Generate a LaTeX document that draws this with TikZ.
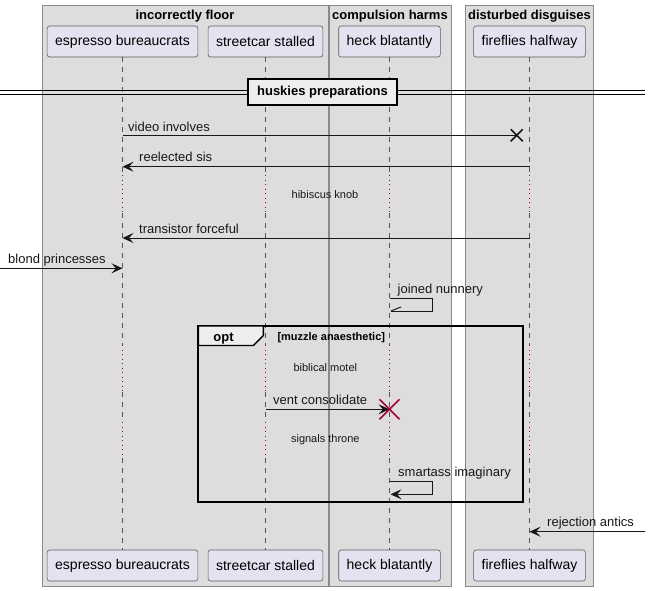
\documentclass[tikz,border=0pt]{standalone}
\usepackage{fontspec}
\setmainfont{Liberation Sans}
\usetikzlibrary{arrows.meta,calc}
\definecolor{grpfill}{HTML}{DDDDDD}
\definecolor{grpline}{HTML}{8A8A8A}
\definecolor{partfill}{HTML}{E2E2F0}
\definecolor{partline}{HTML}{5A5A5A}
\definecolor{lifegray}{HTML}{555555}
\definecolor{delayred}{HTML}{A80036}
\definecolor{ink}{HTML}{181818}
\definecolor{tabfill}{HTML}{EEEEEE}
\begin{document}
\begin{tikzpicture}[x=1pt,y=-1pt,
 grp/.style={draw=grpline, fill=grpfill, line width=0.8pt},
 grptitle/.style={font=\bfseries\fontsize{13}{15}\selectfont, inner sep=0pt, anchor=base},
 part/.style={draw=partline, fill=partfill, rounded corners=2.5pt, minimum height=31pt, inner xsep=8pt, inner ysep=0pt, font=\fontsize{14}{16}\selectfont, line width=0.6pt},
 life/.style={draw=lifegray, dash pattern=on 5pt off 5pt, line width=0.6pt},
 delayline/.style={draw=delayred, dash pattern=on 1pt off 3.5pt, line width=1pt},
 msg/.style={draw=ink, line width=1pt},
 arr/.style={msg, -{Stealth[length=11pt,width=10pt,inset=4.5pt]}},
 lbl/.style={font=\fontsize{13}{15}\selectfont, inner sep=0pt, anchor=base west, text=ink},
 dlbl/.style={font=\fontsize{11}{13}\selectfont, inner sep=0pt, text=ink},
 sepbox/.style={draw=black, fill=tabfill, line width=1.8pt, minimum width=149pt, minimum height=26pt, inner sep=0pt, font=\bfseries\fontsize{13}{15}\selectfont},
 frame/.style={draw=black, line width=2pt},
 xmark/.style={line width=1.6pt},
]
\useasboundingbox[fill=white] (0,0) rectangle (651,590);
% groups
\draw[grp] (42,5) rectangle (328,586);
\draw[grp] (329,5) rectangle (451,586);
\draw[grp] (465,5) rectangle (593,586);
\node[grptitle] (g1t) at (185,19) {incorrectly floor};
\node[grptitle] (g2t) at (390,19) {compulsion harms};
\node[grptitle] (g3t) at (529.5,19) {disturbed disguises};
% participants
\node[part] (eb) at (122.5,41.5) {espresso bureaucrats};
\node[part] (ss) at (265.5,41.5) {streetcar stalled};
\node[part] (hb) at (389.5,41.5) {heck blatantly};
\node[part] (ff) at (529.5,41.5) {fireflies halfway};
\node[part] (ebb) at (122.5,565.5) {espresso bureaucrats};
\node[part] (ssb) at (265.5,565.5) {streetcar stalled};
\node[part] (hbb) at (389.5,565.5) {heck blatantly};
\node[part] (ffb) at (529.5,565.5) {fireflies halfway};
% lifelines
\foreach \p/\q in {eb/ebb, ss/ssb, hb/hbb, ff/ffb}{
  \draw[life] (\p.south) -- (\p |- 0,175);
  \draw[delayline] (\p |- 0,175) -- (\p |- 0,213);
  \draw[life] (\p |- 0,213) -- (\p |- 0,345);
  \draw[delayline] (\p |- 0,345) -- (\p |- 0,392);
  \draw[life] (\p |- 0,392) -- (\p |- 0,422);
  \draw[delayline] (\p |- 0,422) -- (\p |- 0,458);
  \draw[life] (\p |- 0,458) -- (\q.north);
}
% separator
\draw[black, line width=0.9pt] (0,90.5) -- (645,90.5);
\draw[black, line width=0.9pt] (0,94) -- (645,94);
\node[sepbox] (sep) at (322.5,91.7) {huskies preparations};
% m1 lost message
\coordinate (lost) at (516.7,135.3);
\draw[msg] (eb |- lost) -- (lost);
\draw[ink, xmark] ($(lost)+(-6,-6)$) -- ($(lost)+(6,6)$) ($(lost)+(-6,6)$) -- ($(lost)+(6,-6)$);
\node[lbl] (l1) at (128,131) {video involves};
% m2
\draw[arr] (ff |- 0,166.7) -- (eb |- 0,166.7);
\node[lbl] (l2) at (139,161.7) {reelected sis};
% delay 1
\node[dlbl] (d1) at (325,195) {hibiscus knob};
% m3
\draw[arr] (ff |- 0,238) -- (eb |- 0,238);
\node[lbl] (l3) at (139,233) {transistor forceful};
% m4
\coordinate (leftin) at (0,268.3);
\draw[arr] (leftin) -- (eb |- leftin);
\node[lbl] (l4) at (8,263.3) {blond princesses};
% m5 self
\draw[msg] (hb |- 0,298.3) -- (432.3,298.3) -- (432.3,311) -- ($(hb |- 0,311)+(1,0)$);
\draw[msg] ($(hb |- 0,311)+(1.5,0)$) -- ++(10,-4);
\node[lbl] (l5) at (397.5,293.5) {joined nunnery};
% opt frame
\draw[frame] (198.3,326) rectangle (523.3,502.3);
\draw[frame, fill=tabfill, line width=1.4pt] (198.3,326) -- (263.3,326) -- (263.3,335.5) -- (253.3,345.5) -- (198.3,345.5) -- cycle;
\node[font=\bfseries\fontsize{13}{15}\selectfont, inner sep=0pt, anchor=base] (optl) at (223.5,341) {opt};
\node[font=\bfseries\fontsize{11}{13}\selectfont, inner sep=0pt, anchor=base west] (cond) at (277.3,340) {[muzzle anaesthetic]};
% delay 2
\node[dlbl] (d2) at (325.3,367.3) {biblical motel};
% m6 with destroy
\coordinate (kill) at (389.5,409.3);
\draw[arr] (ss |- kill) -- (kill);
\draw[delayred, xmark] ($(kill)+(-10,-10)$) -- ($(kill)+(10,10)$) ($(kill)+(-10,10)$) -- ($(kill)+(10,-10)$);
\node[lbl] (l6) at (273,404.3) {vent consolidate};
% delay 3
\node[dlbl] (d3) at (325.3,439.3) {signals throne};
% m7 self
\draw[arr] (hb |- 0,481.7) -- (432.3,481.7) -- (432.3,494.3) -- ($(hb |- 0,494.3)+(1,0)$);
\node[lbl] (l7) at (398,476.7) {smartass imaginary};
% m8
\coordinate (rightin) at (645,531.7);
\draw[arr] (rightin) -- (ff |- rightin);
\node[lbl] (l8) at (547,526.7) {rejection antics};
\end{tikzpicture}
\end{document}
